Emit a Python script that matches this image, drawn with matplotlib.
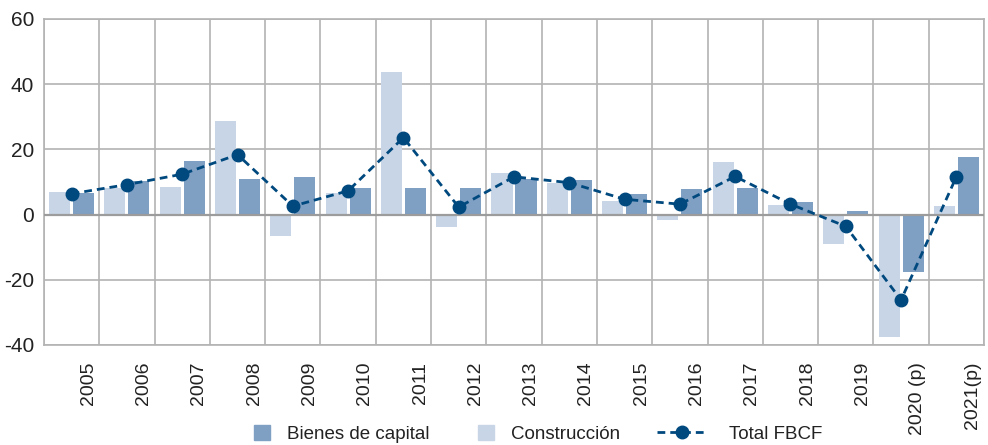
import numpy as np
import matplotlib
matplotlib.use("Agg")
from matplotlib import pyplot as plt
from matplotlib.lines import Line2D
from matplotlib.patches import Patch

years = ["2005", "2006", "2007", "2008", "2009", "2010", "2011", "2012",
         "2013", "2014", "2015", "2016", "2017", "2018", "2019",
         "2020 (p)", "2021(p)"]
bienes = [6.5, 10.3, 16.3, 10.8, 11.4, 8.3, 8.3, 8.3,
          11.0, 10.5, 6.2, 8.0, 8.3, 4.0, 1.2, -17.7, 17.8]
construccion = [6.9, 8.1, 8.4, 28.6, -6.5, 6.5, 43.8, -3.7,
                12.7, 9.6, 4.1, -1.7, 16.0, 2.8, -9.1, -37.4, 2.5]
total = [6.4, 9.2, 12.4, 18.4, 2.6, 7.3, 23.6, 2.3,
         11.6, 9.8, 4.7, 3.2, 11.7, 3.2, -3.6, -26.2, 11.6]

C_DARK = "#7f9fc3"
C_LIGHT = "#c8d5e6"
C_LINE = "#00497f"
C_GRID = "#b3b3b3"
C_TEXT = "#222222"

plt.rcParams["font.family"] = ["Liberation Sans", "DejaVu Sans"]
plt.rcParams["axes.unicode_minus"] = False

fig = plt.figure(figsize=(9.88, 4.45), dpi=100)
ax = fig.add_axes([44 / 988, 1 - 345 / 445, 940 / 988, 326 / 445])

x = np.arange(len(years))
w = 0.38
ax.bar(x - 0.217, construccion, w, color=C_LIGHT, zorder=2)
ax.bar(x + 0.217, bienes, w, color=C_DARK, zorder=2)
ax.axhline(0, color="#9c9c9c", lw=1.6, zorder=3)
ax.plot(x, total, color=C_LINE, lw=2.0, ls=(0, (2.8, 1.8)),
        marker="o", ms=9, zorder=4)

ax.set_xlim(-0.5, len(years) - 0.5)
ax.set_ylim(-40, 60)
ax.set_yticks(range(-40, 61, 20))
ax.set_xticks(x + 0.3)
ax.set_xticklabels(years, rotation=90, fontsize=14, color=C_TEXT)
ax.set_xticks(np.arange(-0.5, len(years), 1), minor=True)
ax.tick_params(axis="x", which="both", length=0, pad=12)
ax.tick_params(axis="y", length=0, pad=7, labelsize=15, labelcolor=C_TEXT)
ax.grid(True, axis="y", color=C_GRID, lw=1.2, zorder=0)
ax.grid(True, axis="x", which="minor", color=C_GRID, lw=1.2, zorder=0)
ax.set_axisbelow(True)
for s in ax.spines.values():
    s.set_color(C_GRID)
    s.set_linewidth(1.2)

h1 = [Patch(color=C_DARK), Patch(color=C_LIGHT)]
fig.legend(h1, ["Bienes de capital", "Construcción"], ncol=2,
           loc="center left", bbox_to_anchor=(254 / 988, 1 - 434 / 445),
           frameon=False, fontsize=13.5, borderpad=0, borderaxespad=0,
           handlelength=0.85, handleheight=0.85, handletextpad=0.9,
           columnspacing=2.6, labelcolor=C_TEXT)
h2 = [Line2D([], [], color=C_LINE, lw=2.0, ls=(0, (2.8, 1.8)), marker="o", ms=9)]
fig.legend(h2, ["Total FBCF"], loc="center left",
           bbox_to_anchor=(657 / 988, 1 - 434 / 445),
           frameon=False, fontsize=13.5, borderpad=0, borderaxespad=0,
           handlelength=2.67, handletextpad=1.17, labelcolor=C_TEXT)

fig.savefig("out.png", dpi=100)
